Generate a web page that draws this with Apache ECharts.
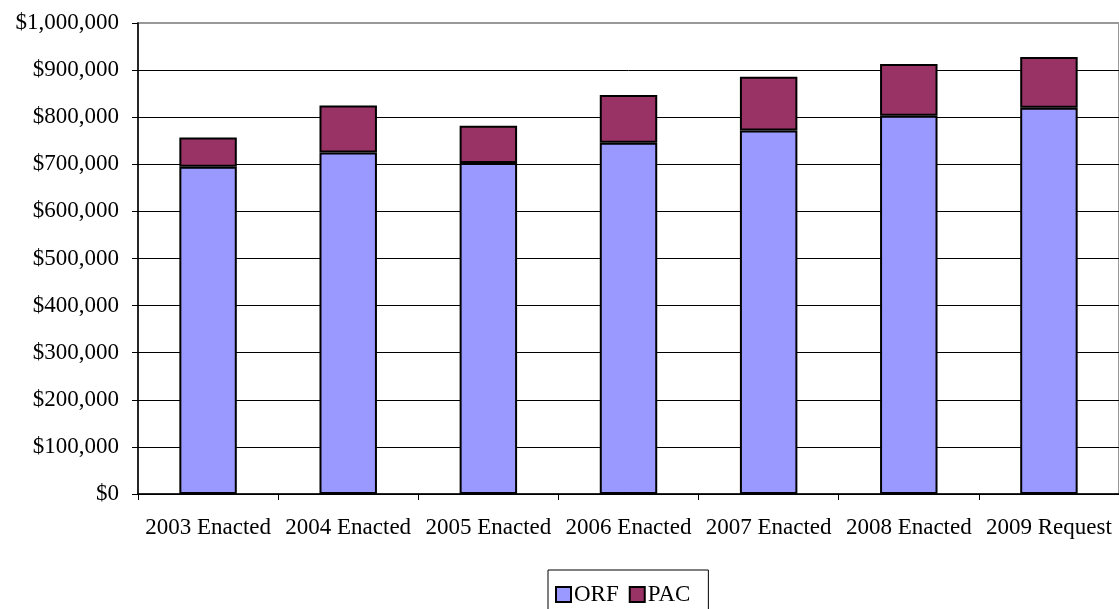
<!DOCTYPE html>
<html>
<head>
<meta charset="utf-8">
<script src="https://cdn.jsdelivr.net/npm/echarts@6/dist/echarts.min.js"></script>
<style>
html,body{margin:0;padding:0;background:#fff;}
#chart{width:1119px;height:609px;}
</style>
</head>
<body>
<div id="chart"></div>
<script>
const categories = ['2003 Enacted','2004 Enacted','2005 Enacted','2006 Enacted','2007 Enacted','2008 Enacted','2009 Request'];
const orfValues = [695000, 725000, 703000, 746000, 772000, 803000, 820000];
const pacValues = [62000, 100000, 79000, 101000, 114000, 110000, 108000];
const yTicks = { min: 0, max: 1000000, interval: 100000 };

const font = '"Liberation Serif", "Times New Roman", serif';
const chart = echarts.init(document.getElementById('chart'), null, {renderer: 'canvas'});
function money(v){
  return '$' + String(v).replace(/\B(?=(\d{3})+(?!\d))/g, ',');
}
const gridColors = [];
for (let v = yTicks.min; v < yTicks.max; v += yTicks.interval) gridColors.push('#000');
gridColors.push('rgba(0,0,0,0)');
chart.setOption({
  animation: false,
  backgroundColor: '#fff',
  grid: { left: 138, right: -3, top: 23, bottom: 115, show: true, borderColor: '#999', borderWidth: 2, backgroundColor: 'transparent' },
  legend: {
    left: 548, top: 570,
    orient: 'horizontal',
    itemWidth: 15, itemHeight: 15, itemGap: 10,
    padding: [13, 18, 13, 7],
    borderColor: '#000', borderWidth: 1,
    icon: 'rect',
    textStyle: { fontFamily: font, fontSize: 23, color: '#000', padding: [0, 0, 0, -2] },
    data: ['ORF', 'PAC']
  },
  xAxis: {
    type: 'category',
    data: categories,
    axisLine: { lineStyle: { color: '#000', width: 1.5 } },
    axisTick: { show: true, length: 6, lineStyle: { color: '#000' }, alignWithLabel: false },
    axisLabel: { fontFamily: font, fontSize: 23, color: '#000', margin: 22, interval: 0 },
    splitLine: { show: false }
  },
  yAxis: {
    type: 'value',
    min: yTicks.min, max: yTicks.max, interval: yTicks.interval,
    axisLine: { show: true, lineStyle: { color: '#000', width: 1.5 } },
    axisTick: { show: true, length: 6, lineStyle: { color: '#000' } },
    axisLabel: { fontFamily: font, fontSize: 23, color: '#000', margin: 19, formatter: money },
    splitLine: { show: true, lineStyle: { color: gridColors, width: 1 } }
  },
  series: [
    {
      name: 'ORF', type: 'bar', stack: 'total', data: orfValues,
      barWidth: '41%',
      itemStyle: { color: '#9999FF', borderColor: '#000', borderWidth: 2 }
    },
    {
      name: 'PAC', type: 'bar', stack: 'total', data: pacValues,
      barWidth: '41%',
      itemStyle: { color: '#993366', borderColor: '#000', borderWidth: 2 }
    }
  ]
});
</script>
</body>
</html>
